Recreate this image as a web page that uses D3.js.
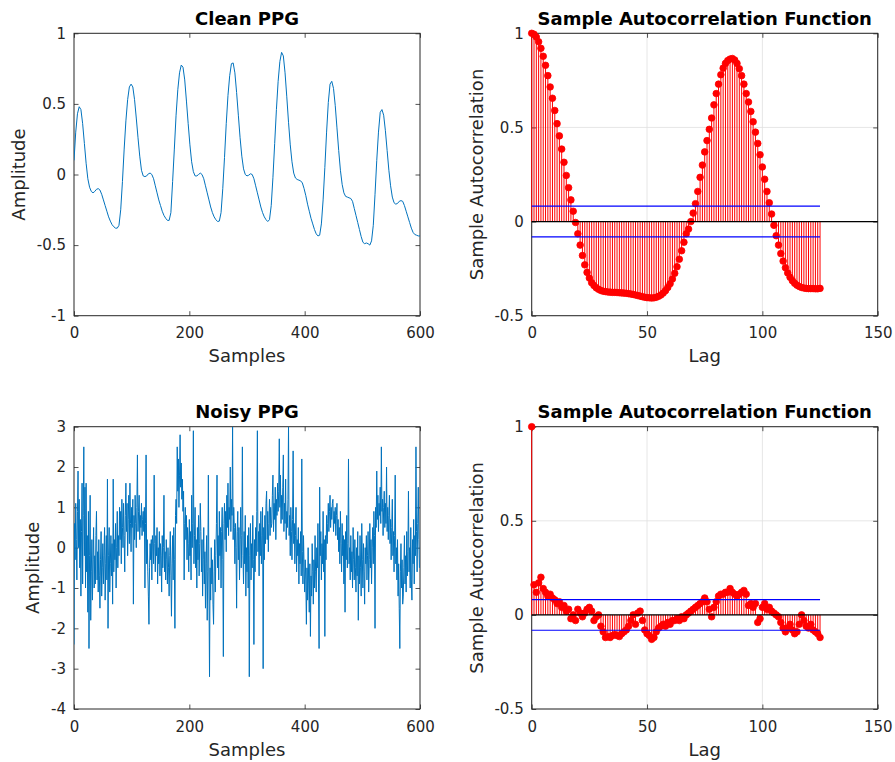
<!DOCTYPE html>
<html><head><meta charset="utf-8">
<script src="https://cdn.jsdelivr.net/npm/d3@7"></script>
<style>
body{margin:0;background:#fff}
svg{display:block}
text{font-family:"DejaVu Sans",sans-serif;fill:#262626}
</style>
</head><body>
<svg id="chart" width="895" height="762"></svg>
<script>
// ---------- DATA ----------
const cleanStep = 3; // clean PPG is listed every 3 samples
const cleanPPG = [
 0.10,0.30,0.43,0.48,0.46,0.36,0.22,0.08,-0.03,-0.09,
 -0.12,-0.13,-0.12,-0.105,-0.10,-0.11,-0.14,-0.18,-0.22,-0.26,
 -0.30,-0.33,-0.355,-0.37,-0.38,-0.38,-0.36,-0.25,-0.05,0.18,
 0.38,0.53,0.62,0.64,0.62,0.53,0.40,0.26,0.13,0.03,
 -0.01,-0.015,-0.01,0.005,0.01,0.0,-0.03,-0.08,-0.13,-0.18,
 -0.22,-0.26,-0.29,-0.31,-0.325,-0.325,-0.27,-0.05,0.18,0.42,
 0.60,0.72,0.775,0.76,0.67,0.52,0.36,0.21,0.09,0.02,
 -0.01,-0.01,0.0,0.01,0.0,-0.03,-0.08,-0.13,-0.18,-0.23,
 -0.27,-0.30,-0.32,-0.333,-0.33,-0.27,-0.10,0.12,0.36,0.56,
 0.70,0.785,0.79,0.72,0.58,0.42,0.26,0.13,0.04,0.0,
 -0.01,-0.005,0.005,0.0,-0.03,-0.08,-0.13,-0.18,-0.23,-0.27,
 -0.30,-0.32,-0.333,-0.32,-0.22,-0.02,0.22,0.46,0.66,0.80,
 0.865,0.84,0.72,0.55,0.37,0.21,0.09,0.01,-0.025,-0.035,
 -0.04,-0.045,-0.06,-0.10,-0.15,-0.21,-0.26,-0.31,-0.35,-0.39,
 -0.42,-0.435,-0.43,-0.35,-0.18,0.05,0.30,0.51,0.64,0.66,
 0.61,0.49,0.33,0.17,0.03,-0.07,-0.13,-0.155,-0.16,-0.165,
 -0.17,-0.19,-0.24,-0.29,-0.34,-0.39,-0.44,-0.48,-0.49,-0.485,
 -0.49,-0.50,-0.47,-0.36,-0.14,0.10,0.30,0.44,0.46,0.42,
 0.31,0.17,0.03,-0.08,-0.16,-0.20,-0.21,-0.205,-0.19,-0.185,
 -0.19,-0.22,-0.26,-0.30,-0.34,-0.38,-0.41,-0.425,-0.43,-0.435,
 -0.435
];

const noisyPPG = [
 -2.4,0.6,-0.3,1.1,0.2,-0.8,0.9,1.9,0.0,1.2,-0.5,0.7,-1.2,0.4,1.6,-0.9,0.8,2.5,-0.2,1.5,
 -1.0,1.6,-0.6,0.3,-1.6,0.9,-2.5,-0.2,1.3,-1.8,-0.6,0.2,-1.3,-0.3,0.5,-1.0,-0.2,-0.9,0.3,0.9,
 -0.8,-0.1,-1.1,0.2,-0.7,-1.5,-0.3,0.4,-1.2,-0.5,0.1,-0.9,-0.2,0.5,-1.3,-0.4,0.3,-0.8,1.7,-2.0,
 -0.2,0.5,-1.1,-0.4,0.3,-0.7,0.1,-1.4,1.7,-0.6,0.2,-0.3,0.6,-1.0,0.0,0.9,-0.5,0.3,-0.2,1.0,
 0.2,0.9,-0.4,1.2,0.5,0.0,1.1,0.3,-0.6,0.8,1.6,0.4,1.1,-0.2,0.7,1.3,0.1,1.6,0.6,-0.1,
 1.0,0.5,1.2,-1.4,0.8,0.2,1.3,0.6,0.0,1.0,2.3,0.4,0.9,1.3,0.2,0.8,0.5,1.1,0.3,0.7,
 0.9,0.4,1.0,-1.0,0.6,2.3,-0.4,0.2,-0.6,-1.2,-1.9,-0.5,0.1,-0.3,0.2,-0.8,0.3,0.1,-0.4,1.8,
 0.1,-0.6,0.3,-0.2,0.5,-0.9,0.0,-0.4,0.4,-0.7,0.1,-0.2,-1.1,0.3,-0.5,0.0,1.3,-0.6,-0.1,-0.8,
 0.2,-0.3,-0.9,0.0,-0.5,-1.2,-0.2,0.4,-0.7,-1.7,-0.4,0.3,-0.8,0.5,-0.3,-2.0,0.8,1.2,0.6,2.5,
 1.4,2.2,1.0,1.8,2.8,1.5,2.1,1.2,1.7,0.9,1.4,-0.8,0.6,1.0,0.2,0.8,-0.3,0.5,0.1,-0.6,
 0.7,-0.2,0.4,-0.8,1.3,0.0,0.6,2.9,-0.4,0.3,1.0,-0.5,0.2,-1.0,0.5,-0.3,0.8,-0.7,0.1,1.1,
 0.4,-0.6,0.2,-1.2,-0.3,0.5,-0.9,-0.1,-1.5,-0.4,0.3,-1.8,-0.6,1.8,-1.0,-3.2,-0.5,-1.3,0.0,-0.9,
 -0.3,-1.4,-1.9,-0.6,0.2,-1.1,-0.2,0.6,1.8,-0.5,0.3,-0.8,0.9,-0.2,0.5,-1.0,0.4,1.0,-0.3,-2.7,
 0.6,1.1,0.2,0.9,-0.1,1.3,0.5,1.6,0.3,1.0,0.7,2.0,0.4,1.2,0.8,3.0,0.2,1.0,0.5,-0.4,
 0.6,0.0,-1.5,0.4,0.9,-0.3,0.5,-0.8,0.2,1.0,-0.5,0.3,2.5,-0.2,-0.9,0.4,-0.4,0.8,-1.2,0.0,
 -0.6,0.3,-1.0,0.5,-3.2,-0.2,0.6,-0.8,0.1,-0.5,0.8,-0.3,-2.4,0.2,-0.6,0.5,-0.2,0.9,2.9,-0.1,
 0.4,-0.7,0.6,-0.2,0.9,-0.4,0.3,1.0,-3.0,0.5,-0.3,0.8,0.1,1.1,1.4,0.2,0.9,-0.1,0.6,1.2,
 0.3,1.0,0.5,0.6,1.3,1.8,0.4,1.1,0.7,1.5,0.2,1.2,0.8,1.6,0.9,1.4,2.7,1.0,1.8,0.6,
 1.3,0.7,1.5,2.3,0.4,1.1,0.6,1.7,0.2,0.9,0.5,1.2,3.0,0.3,0.8,-0.2,1.0,0.4,-0.3,0.7,
 2.4,0.1,0.6,-0.4,0.3,1.0,-0.6,0.2,-0.2,0.5,-0.9,0.1,-0.4,0.4,-0.7,2.2,-0.1,-0.9,0.3,-0.5,
 -1.1,-0.3,-0.8,-1.9,-0.5,-1.3,0.0,-0.9,-1.6,-0.4,-2.2,-0.7,-1.2,0.1,-0.6,-1.4,-0.3,-1.0,0.3,-0.6,
 -1.1,0.0,-0.5,0.6,-0.9,-2.5,1.5,-0.2,0.4,-0.8,0.1,-0.4,0.9,-0.6,0.2,-2.2,0.3,-0.3,0.8,0.1,
 0.6,1.1,0.4,0.9,1.3,0.5,1.0,0.7,1.1,1.2,0.4,0.9,0.6,1.0,0.3,0.8,1.1,0.2,0.7,-0.1,
 0.5,-0.4,0.9,0.1,-0.6,0.6,-0.2,0.3,-0.9,0.2,-1.6,0.4,-0.3,0.8,-0.5,0.1,2.2,-0.4,0.0,-0.8,
 0.3,-0.6,-0.1,-1.0,0.5,-0.3,-0.8,0.2,-0.5,-1.1,0.0,-0.7,0.4,-1.8,-0.2,-0.9,0.3,-0.5,-1.2,0.6,
 -0.3,-1.0,0.1,-0.6,-1.4,0.0,-0.4,0.3,-0.8,-0.2,0.4,-1.1,-0.3,0.6,-0.5,0.2,-0.9,0.0,0.5,-0.4,
 0.9,0.3,-2.0,1.0,0.5,1.9,0.7,1.3,0.4,1.1,0.8,1.5,0.6,2.5,0.9,1.2,0.3,1.0,1.4,0.5,
 1.1,0.6,2.0,0.4,1.0,0.2,0.8,1.3,0.1,0.7,-0.3,0.5,1.2,-0.2,0.4,-0.6,0.3,1.8,-0.4,0.0,
 -0.8,0.2,-1.2,-0.4,-1.5,-2.5,-0.6,0.1,-1.0,-0.3,-1.4,-1.2,-0.5,0.3,-0.9,-0.2,-1.1,0.4,-0.7,-0.1,
 1.4,-0.6,0.0,-1.0,0.5,-0.8,-1.3,0.2,-0.4,0.7,-0.9,0.3,-0.2,2.5,0.4,-0.6,0.6,1.5,0.2,-0.5
];

const acfClean = [
 1.000,0.995,0.980,0.955,0.920,0.878,0.830,0.775,0.715,0.655,
 0.590,0.520,0.455,0.385,0.315,0.245,0.180,0.115,0.055,-0.005,
 -0.065,-0.125,-0.180,-0.230,-0.270,-0.300,-0.325,-0.340,-0.352,-0.360,
 -0.366,-0.370,-0.372,-0.374,-0.375,-0.376,-0.376,-0.377,-0.378,-0.379,
 -0.380,-0.381,-0.383,-0.385,-0.387,-0.390,-0.393,-0.396,-0.399,-0.402,
 -0.404,-0.405,-0.406,-0.405,-0.402,-0.397,-0.390,-0.380,-0.367,-0.350,
 -0.330,-0.305,-0.275,-0.240,-0.200,-0.155,-0.110,-0.065,-0.040,0.000,
 0.045,0.095,0.160,0.235,0.300,0.370,0.430,0.490,0.550,0.620,
 0.680,0.730,0.780,0.815,0.840,0.855,0.863,0.866,0.858,0.840,
 0.812,0.775,0.730,0.680,0.635,0.585,0.530,0.475,0.415,0.355,
 0.290,0.225,0.160,0.100,0.040,-0.020,-0.075,-0.125,-0.170,-0.210,
 -0.245,-0.273,-0.296,-0.314,-0.328,-0.338,-0.345,-0.350,-0.353,-0.355,
 -0.356,-0.356,-0.356,-0.357,-0.357,-0.355
];

const acfNoisy = [
 1.00,0.16,0.12,0.17,0.20,0.14,0.12,0.10,0.11,0.09,
 0.08,0.06,0.07,0.04,0.05,0.02,0.03,-0.02,0.00,-0.03,
 0.03,0.01,-0.01,0.01,0.03,0.04,0.02,-0.03,-0.01,0.00,
 -0.06,-0.09,-0.12,-0.115,-0.12,-0.11,-0.105,-0.11,-0.115,-0.10,
 -0.09,-0.08,-0.06,-0.03,0.00,-0.05,0.01,0.02,-0.03,-0.08,
 -0.10,-0.11,-0.13,-0.12,-0.09,-0.07,-0.06,-0.05,-0.06,-0.04,
 -0.05,-0.03,-0.03,-0.02,-0.03,-0.01,-0.02,0.00,0.01,0.02,
 0.03,0.04,0.05,0.06,0.07,0.09,0.07,0.03,-0.01,0.04,
 0.07,0.10,0.11,0.11,0.12,0.12,0.14,0.12,0.11,0.10,
 0.11,0.12,0.13,0.11,0.05,0.06,0.04,0.06,-0.04,-0.02,
 0.04,0.06,0.03,0.04,0.02,0.01,0.00,-0.01,-0.04,-0.07,
 -0.09,-0.07,-0.05,-0.08,-0.10,-0.09,-0.05,0.00,-0.03,-0.06,
 -0.07,-0.05,-0.08,-0.09,-0.10,-0.12
];

const confBound = 0.0816; // approx. 2/sqrt(600)

const cleanXTicks = [0, 200, 400, 600];
const cleanYTicks = [-1, -0.5, 0, 0.5, 1];
const noisyXTicks = [0, 200, 400, 600];
const noisyYTicks = [-4, -3, -2, -1, 0, 1, 2, 3];
const acfXTicks = [0, 50, 100, 150];
const acfYTicks = [-0.5, 0, 0.5, 1];

// ---------- DRAW ----------
const svg = d3.select("#chart");
const fmt = d => String(d);
let clipId = 0;

function panel(o) {
  const x = d3.scaleLinear().domain(o.xDomain).range([o.left, o.right]);
  const y = d3.scaleLinear().domain(o.yDomain).range([o.bottom, o.top]);
  const g = svg.append("g");
  const id = "clip" + (clipId++);
  svg.append("clipPath").attr("id", id).append("rect")
    .attr("x", o.left).attr("y", o.top)
    .attr("width", o.right - o.left).attr("height", o.bottom - o.top);

  if (o.grid) {
    const gg = g.append("g").attr("stroke", "#dfdfdf").attr("stroke-width", 0.8);
    o.xTicks.forEach(t => gg.append("line").attr("x1", x(t)).attr("x2", x(t)).attr("y1", o.top).attr("y2", o.bottom));
    o.yTicks.forEach(t => gg.append("line").attr("x1", o.left).attr("x2", o.right).attr("y1", y(t)).attr("y2", y(t)));
  }

  const axG = g.append("g");
  const tl = 4.5;
  const bx = axG.append("g").attr("transform", `translate(0,${o.bottom})`)
    .call(d3.axisBottom(x).tickValues(o.xTicks).tickFormat(fmt).tickSize(-tl).tickPadding(12));
  const lx = axG.append("g").attr("transform", `translate(${o.left},0)`)
    .call(d3.axisLeft(y).tickValues(o.yTicks).tickFormat(fmt).tickSize(-tl).tickPadding(8));
  const tx = axG.append("g").attr("transform", `translate(0,${o.top})`)
    .call(d3.axisTop(x).tickValues(o.xTicks).tickFormat("").tickSize(-tl));
  const rx = axG.append("g").attr("transform", `translate(${o.right},0)`)
    .call(d3.axisRight(y).tickValues(o.yTicks).tickFormat("").tickSize(-tl));
  [bx, lx, tx, rx].forEach(a => {
    a.select(".domain").remove();
    a.selectAll("line").attr("stroke", "#262626").attr("stroke-width", 0.8);
    a.selectAll("text").attr("font-size", "15px").attr("fill", "#262626")
      .attr("font-family", '"DejaVu Sans",sans-serif');
  });
  axG.append("rect").attr("x", o.left).attr("y", o.top)
    .attr("width", o.right - o.left).attr("height", o.bottom - o.top)
    .attr("fill", "none").attr("stroke", "#262626").attr("stroke-width", 1);

  const plot = g.append("g");
  o.draw(plot, x, y, `url(#${id})`);

  g.append("text").attr("x", (o.left + o.right) / 2).attr("y", o.top - 8.5)
    .attr("text-anchor", "middle").attr("font-weight", "bold").attr("font-size", "18px")
    .style("fill", "#000").text(o.title);
  g.append("text").attr("x", (o.left + o.right) / 2).attr("y", o.bottom + 46.5)
    .attr("text-anchor", "middle").attr("font-size", "18px").text(o.xlabel);
  g.append("text")
    .attr("transform", `translate(${o.left - o.ylabOff},${(o.top + o.bottom) / 2}) rotate(-90)`)
    .attr("text-anchor", "middle").attr("font-size", "18px").text(o.ylabel);
}

function drawLine(data, step) {
  return (g, x, y, clip) => {
    const line = d3.line().x((d, i) => x(i * step)).y(d => y(d));
    g.append("path").datum(data).attr("d", line).attr("clip-path", clip)
      .attr("fill", "none").attr("stroke", "#0072BD").attr("stroke-width", 1);
  };
}

function drawAcf(data) {
  return (g, x, y, clip) => {
    g.append("g").selectAll("line").data(data).join("line")
      .attr("x1", (d, i) => x(i)).attr("x2", (d, i) => x(i))
      .attr("y1", y(0)).attr("y2", d => y(d))
      .attr("stroke", "#ff0000").attr("stroke-width", 1);
    g.append("g").selectAll("circle").data(data).join("circle")
      .attr("cx", (d, i) => x(i)).attr("cy", d => y(d)).attr("r", 3.3)
      .attr("fill", "#ff0000").attr("stroke", "#ff0000").attr("stroke-width", 0.8);
    const n = data.length - 1;
    [confBound, -confBound].forEach(b => {
      g.append("line").attr("x1", x(0)).attr("x2", x(n)).attr("y1", y(b)).attr("y2", y(b))
        .attr("stroke", "#0000ff").attr("stroke-width", 1.2);
    });
    g.append("line").attr("x1", x.range()[0]).attr("x2", x.range()[1]).attr("y1", y(0)).attr("y2", y(0))
      .attr("stroke", "#000").attr("stroke-width", 1.2);
  };
}

const L = 74, R = 420, L2 = 531.7, R2 = 877.7;
const T1 = 33.3, B1 = 315.7, T2 = 426.7, B2 = 709;

panel({left: L, right: R, top: T1, bottom: B1, xDomain: [0, 600], yDomain: [-1, 1],
  xTicks: cleanXTicks, yTicks: cleanYTicks, title: "Clean PPG", xlabel: "Samples",
  ylabel: "Amplitude", ylabOff: 49, draw: drawLine(cleanPPG, cleanStep)});
panel({left: L2, right: R2, top: T1, bottom: B1, xDomain: [0, 150], yDomain: [-0.5, 1],
  xTicks: acfXTicks, yTicks: acfYTicks, grid: true, title: "Sample Autocorrelation Function",
  xlabel: "Lag", ylabel: "Sample Autocorrelation", ylabOff: 49, draw: drawAcf(acfClean)});
panel({left: L, right: R, top: T2, bottom: B2, xDomain: [0, 600], yDomain: [-4, 3],
  xTicks: noisyXTicks, yTicks: noisyYTicks, title: "Noisy PPG", xlabel: "Samples",
  ylabel: "Amplitude", ylabOff: 35, draw: drawLine(noisyPPG, 1)});
panel({left: L2, right: R2, top: T2, bottom: B2, xDomain: [0, 150], yDomain: [-0.5, 1],
  xTicks: acfXTicks, yTicks: acfYTicks, grid: true, title: "Sample Autocorrelation Function",
  xlabel: "Lag", ylabel: "Sample Autocorrelation", ylabOff: 49, draw: drawAcf(acfNoisy)});
</script>
</body></html>
